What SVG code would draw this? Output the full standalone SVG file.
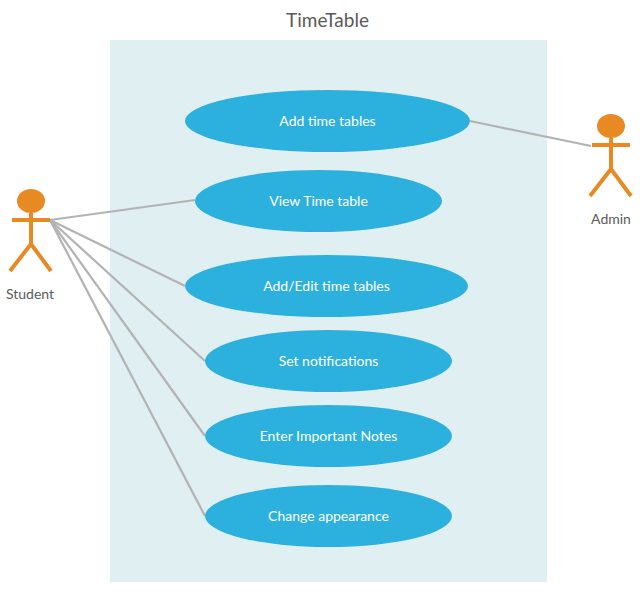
<svg xmlns="http://www.w3.org/2000/svg" width="640" height="615" viewBox="0 0 640 615">
<style>
.t{font-family:Lato,"Liberation Sans",sans-serif;font-size:14px;text-anchor:middle}
.u{fill:#2cb1de}
.ul{fill:#fff}
.a{fill:none;stroke:#e78a24;stroke-width:4}
.c{fill:none;stroke:#b3b3b3;stroke-width:2.2}
.n{fill:#5a5a5a}
</style>
<rect width="640" height="615" fill="#fff"/>
<text x="327.500" y="27" class="t n" style="font-size:19px">TimeTable</text>
<rect x="110" y="40" width="437" height="542" fill="#e0eff2"/>
<g id="connectors">
<path class="c" d="M470 121L591 146"/>
<path class="c" d="M50 220L195 200"/>
<path class="c" d="M50 220L185 286"/>
<path class="c" d="M50 220L205 361"/>
<path class="c" d="M50 220L205 436"/>
<path class="c" d="M50 220L205 516"/>
</g>
<g id="uc1"><ellipse class="u" cx="327.500" cy="121" rx="142.500" ry="31"/><text x="327.500" y="126" class="t ul">Add time tables</text></g>
<g id="uc2"><ellipse class="u" cx="318.500" cy="201" rx="123.500" ry="31"/><text x="318.500" y="206" class="t ul">View Time table</text></g>
<g id="uc3"><ellipse class="u" cx="326.500" cy="286" rx="141.500" ry="31"/><text x="326.500" y="291" class="t ul">Add/Edit time tables</text></g>
<g id="uc4"><ellipse class="u" cx="328.500" cy="361" rx="123.500" ry="31"/><text x="328.500" y="366" class="t ul">Set notifications</text></g>
<g id="uc5"><ellipse class="u" cx="328.500" cy="436" rx="123.500" ry="31"/><text x="328.500" y="441" class="t ul">Enter Important Notes</text></g>
<g id="uc6"><ellipse class="u" cx="328.500" cy="516" rx="123.500" ry="31"/><text x="328.500" y="521" class="t ul">Change appearance</text></g>
<g id="student"><ellipse cx="31" cy="201" rx="14" ry="12" fill="#e78a24"/><path class="a" d="M31 213V244M12 220H50M10 271L31 244L51 271"/><text x="30" y="299" class="t n">Student</text></g>
<g id="admin"><ellipse cx="611" cy="126" rx="14" ry="12" fill="#e78a24"/><path class="a" d="M611 138V169M592 145H630M590 196L611 169L631 196"/><text x="611" y="224" class="t n">Admin</text></g>
</svg>
